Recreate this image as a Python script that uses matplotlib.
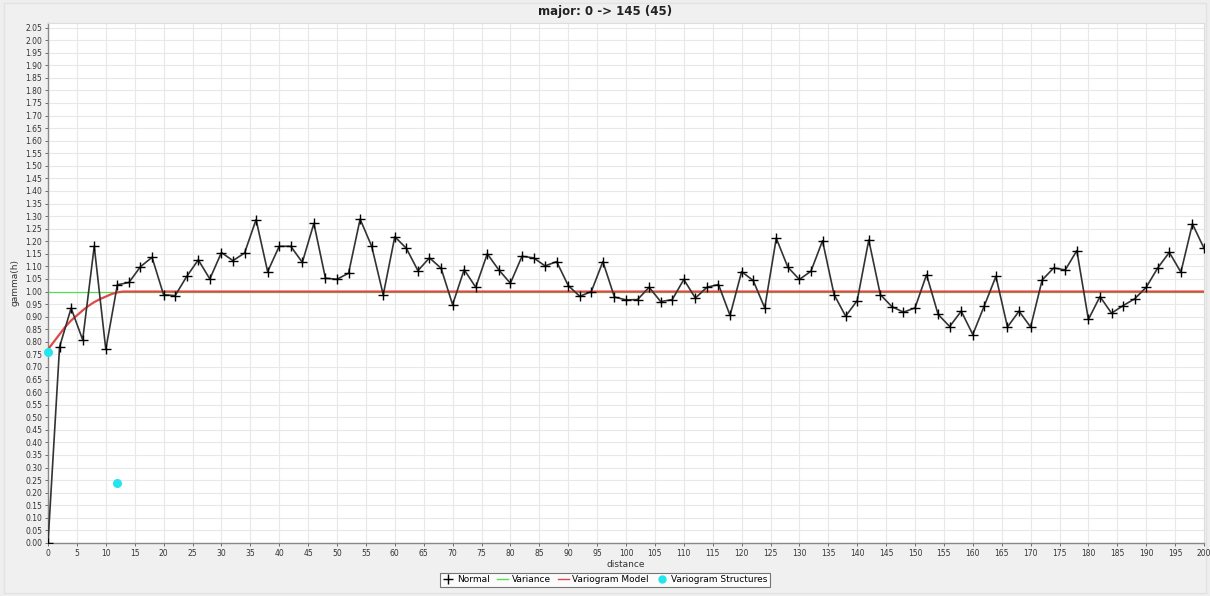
import numpy as np
import matplotlib
matplotlib.use("Agg")
import matplotlib.pyplot as plt
from matplotlib.patches import Rectangle

# Experimental variogram (lag distance -> gamma)
distance = list(range(0, 202, 2))
gamma = [
    0.00, 0.78, 0.934, 0.808, 1.18, 0.77, 1.027, 1.036, 1.099, 1.136,
    0.987, 0.984, 1.06, 1.126, 1.05, 1.155, 1.123, 1.153, 1.286, 1.079,
    1.18, 1.18, 1.116, 1.271, 1.053, 1.049, 1.073, 1.288, 1.18, 0.987,
    1.218, 1.172, 1.083, 1.134, 1.093, 0.948, 1.087, 1.017, 1.15, 1.086,
    1.033, 1.14, 1.134, 1.102, 1.119, 1.024, 0.981, 1.0, 1.119, 0.978,
    0.967, 0.968, 1.017, 0.960, 0.968, 1.048, 0.974, 1.017, 1.028, 0.905,
    1.079, 1.044, 0.935, 1.212, 1.097, 1.048, 1.081, 1.202, 0.988, 0.902,
    0.964, 1.205, 0.988, 0.940, 0.918, 0.935, 1.067, 0.909, 0.861, 0.922,
    0.829, 0.944, 1.06, 0.859, 0.922, 0.859, 1.046, 1.094, 1.086, 1.163,
    0.889, 0.980, 0.914, 0.944, 0.971, 1.017, 1.094, 1.156, 1.077, 1.269,
    1.172,
]

# Sample variance (sill)
variance = 1.0

# Fitted variogram model
model_distance = [0, 1, 2, 3, 4, 5, 6, 7, 8, 9, 10, 11, 12, 13, 200]
model_gamma = [0.77, 0.80, 0.83, 0.86, 0.885, 0.905, 0.925, 0.943, 0.958,
               0.970, 0.980, 0.990, 0.997, 1.0, 1.0]

# Model structures: nugget and one spherical structure
structure_distance = [0, 12]
structure_value = [0.76, 0.24]

title = "major: 0 -> 145 (45)"

W, H = 1210, 596
fig = plt.figure(figsize=(W / 100, H / 100), dpi=100)
fig.patch.set_facecolor("#eeeeee")

# panel frame
fig.patches.append(Rectangle((4 / W, 3 / H), (W - 8) / W, (H - 6) / H,
                             transform=fig.transFigure, facecolor="#f0f0f0",
                             edgecolor="#e2e2e2", linewidth=1, zorder=-10))

left, right, top, bottom = 48, 1204, 23, 543
ax = fig.add_axes([left / W, 1 - bottom / H, (right - left) / W, (bottom - top) / H])
ax.set_facecolor("white")

ax.set_xlim(0, 200)
ax.set_ylim(0, 2.068)
ax.set_xticks(np.arange(0, 201, 5))
ax.set_yticks(np.arange(0, 2.051, 0.05))
ax.set_yticklabels([f"{v:.2f}" for v in np.arange(0, 2.051, 0.05)])
ax.grid(True, color="#e8e8e8", linewidth=0.8)
ax.set_axisbelow(True)

for side in ["top", "right"]:
    ax.spines[side].set_color("#dddddd")
    ax.spines[side].set_linewidth(0.8)
for side in ["left", "bottom"]:
    ax.spines[side].set_color("#888888")
    ax.spines[side].set_linewidth(1.0)

ax.tick_params(axis="both", labelsize=5.5, colors="#555555", length=2,
               width=0.6, pad=2, labelcolor="#333333")

ax.axhline(variance, color="#55dd55", linewidth=0.9, zorder=2)
ax.plot(model_distance, model_gamma, color="#e04848", linewidth=1.6, zorder=3)
ax.plot(distance, gamma, color="#333333", linewidth=1.2, marker="+",
        markersize=6.5, markeredgecolor="black", markeredgewidth=1.0, zorder=4)
ax.scatter(structure_distance, structure_value, s=30, color="#22e5ee",
           zorder=5, clip_on=False)

ax.set_xlabel("distance", fontsize=6.5, color="#333333", labelpad=2)
ax.set_ylabel("gamma(h)", fontsize=6.5, color="#333333", labelpad=4)
fig.text(605 / W, 1 - 11 / H, title, ha="center", va="center",
         fontsize=8.5, fontweight="bold", color="#222222")

# legend
handles = [
    plt.Line2D([], [], color="#444444", marker="+", markersize=7,
               markeredgecolor="black", linestyle="-", linewidth=0),
    plt.Line2D([], [], color="#55dd55", linewidth=1.0),
    plt.Line2D([], [], color="#e04848", linewidth=1.0),
    plt.Line2D([], [], color="#22e5ee", marker="o", markersize=5, linewidth=0),
]
labels = ["Normal", "Variance", "Variogram Model", "Variogram Structures"]
leg = fig.legend(handles, labels, loc="center", bbox_to_anchor=(605 / W, 1 - 580 / H),
                 ncol=4, fontsize=6.5, frameon=True, fancybox=False,
                 handlelength=1.2, handletextpad=0.4, columnspacing=0.8,
                 borderpad=0.3, borderaxespad=0)
leg.get_frame().set_edgecolor("#555555")
leg.get_frame().set_facecolor("white")
leg.get_frame().set_linewidth(0.8)

fig.savefig("out.png", dpi=100, facecolor=fig.get_facecolor())
